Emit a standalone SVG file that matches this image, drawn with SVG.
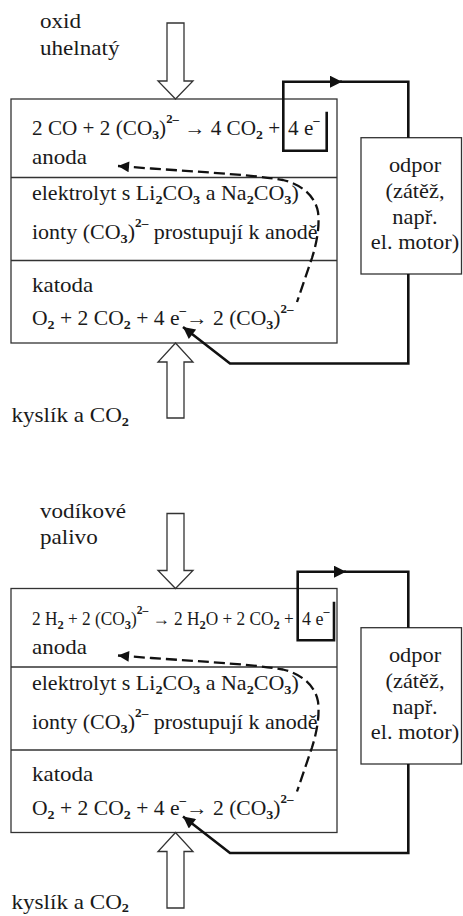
<svg xmlns="http://www.w3.org/2000/svg" width="463" height="916" viewBox="0 0 463 916">
<style>
text{font-family:"Liberation Serif","Times New Roman","DejaVu Serif",serif;fill:#1a1a1a}
.lbl{font-size:21px}
.t{font-size:20px}
.eq2{font-size:18px}
.sub{font-size:13px;font-weight:bold}
.sup{font-size:12px;font-weight:bold}
.box{fill:#fff;stroke:#333;stroke-width:1.3}
.div{stroke:#333;stroke-width:1.3;fill:none}
.hollow{fill:#fff;stroke:#333;stroke-width:1.3}
.wire{fill:none;stroke:#111;stroke-width:2.6}
.dash{fill:none;stroke:#111;stroke-width:2.3;stroke-dasharray:11 5}
</style>
<defs>
<marker id="ah" viewBox="0 0 10 10" refX="10" refY="5" markerWidth="14" markerHeight="12" markerUnits="userSpaceOnUse" orient="auto"><path d="M0,0 L10,5 L0,10 Z" fill="#111"/></marker>
<marker id="ahd" viewBox="0 0 10 10" refX="10" refY="5" markerWidth="15" markerHeight="11" markerUnits="userSpaceOnUse" orient="auto-start-reverse"><path d="M0,0 L10,5 L0,10 Z" fill="#111"/></marker>
</defs>

<!-- ===== Cell 1 ===== -->
<g id="cell1">
  <g id="c1-input-label">
    <text class="lbl" transform="matrix(1.1 0 0 1 40 27.5)">oxid</text>
    <text class="lbl" transform="matrix(1.1 0 0 1 40 55)">uhelnatý</text>
  </g>
  <g id="c1-output-label">
    <text class="lbl" transform="matrix(1.1 0 0 1 11.5 421.5)">kyslík a CO<tspan class="sub" dy="4">2</tspan></text>
  </g>
  <g id="c1-cell">
    <rect class="box" x="11" y="99" width="326" height="244"/>
    <line class="div" x1="11" y1="177.5" x2="337" y2="177.5"/>
    <line class="div" x1="11" y1="260.5" x2="337" y2="260.5"/>
  </g>
  <g id="c1-anode">
    <text class="t" transform="matrix(1.06 0 0 1 32 135)">2 CO + 2 (CO<tspan class="sub" dy="4">3</tspan><tspan dy="-4">)</tspan><tspan class="sup" dy="-12">2–</tspan><tspan dy="12"> → 4 CO</tspan><tspan class="sub" dy="4">2</tspan><tspan dy="-4"> +</tspan></text>
    <text class="t" transform="matrix(1.06 0 0 1 288 135)">4 e<tspan class="sup" dy="-11">–</tspan></text>
    <text class="t" transform="matrix(1.15 0 0 1 32 164)">anoda</text>
  </g>
  <g id="c1-electrolyte">
    <text class="t" transform="matrix(1.1 0 0 1 32 200)">elektrolyt s Li<tspan class="sub" dy="4">2</tspan><tspan dy="-4">CO</tspan><tspan class="sub" dy="4">3</tspan><tspan dy="-4"> a Na</tspan><tspan class="sub" dy="4">2</tspan><tspan dy="-4">CO</tspan><tspan class="sub" dy="4">3</tspan><tspan dy="-4">)</tspan></text>
    <text class="t" transform="matrix(1.1 0 0 1 32 238.5)">ionty (CO<tspan class="sub" dy="4">3</tspan><tspan dy="-4">)</tspan><tspan class="sup" dy="-12">2–</tspan><tspan dy="12"> prostupují k anodě</tspan></text>
  </g>
  <g id="c1-cathode">
    <text class="t" transform="matrix(1.15 0 0 1 32 291.5)">katoda</text>
    <text class="t" transform="matrix(1.08 0 0 1 32 325)">O<tspan class="sub" dy="4">2</tspan><tspan dy="-4"> + 2 CO</tspan><tspan class="sub" dy="4">2</tspan><tspan dy="-4"> + 4 e</tspan><tspan class="sup" dy="-11">–</tspan><tspan dy="11">→ 2 (CO</tspan><tspan class="sub" dy="4">3</tspan><tspan dy="-4">)</tspan><tspan class="sup" dy="-12">2–</tspan></text>
  </g>
  <g id="c1-load">
    <rect class="box" x="361" y="137.7" width="100.5" height="136.3"/>
    <text class="t" text-anchor="middle" transform="matrix(1.12 0 0 1 415 172)">odpor</text>
    <text class="t" text-anchor="middle" transform="matrix(1.12 0 0 1 415 198)">(zátěž,</text>
    <text class="t" text-anchor="middle" transform="matrix(1.12 0 0 1 415 224)">např.</text>
    <text class="t" text-anchor="middle" transform="matrix(1.12 0 0 1 415 249)">el. motor)</text>
  </g>
  <g id="c1-connectors">
    <path class="hollow" d="M167,23 H184 V81 H193 L175.5,99 L158,81 H167 Z"/>
    <path class="hollow" d="M175.5,343 L193,362 H184 V418 H167 V362 H158 Z"/>
    <path class="wire" d="M326.7,111.7 V150.7 H283.3 V81.7 H342" marker-end="url(#ah)"/>
    <path class="wire" d="M340,81.7 H408.3 V137.7"/>
    <path class="wire" d="M408.3,274 V363.5 H230 L183,327" marker-end="url(#ah)"/>
    <path class="dash" d="M118,166 C180,171 250,174 283,180 C300,184 315,195 318,212 C320,228 316,245 312,258 L297,302" marker-start="url(#ahd)"/>
  </g>
</g>

<!-- ===== Cell 2 ===== -->
<g id="cell2" transform="translate(0,489.5)">
  <g id="c2-input-label">
    <text class="lbl" transform="matrix(1.1 0 0 1 40 28.5)">vodíkové</text>
    <text class="lbl" transform="matrix(1.1 0 0 1 40 54)">palivo</text>
  </g>
  <g id="c2-output-label">
    <text class="lbl" transform="matrix(1.1 0 0 1 11.5 419)">kyslík a CO<tspan class="sub" dy="3">2</tspan></text>
  </g>
  <g id="c2-cell">
    <rect class="box" x="11" y="99" width="326" height="244"/>
    <line class="div" x1="11" y1="177.5" x2="337" y2="177.5"/>
    <line class="div" x1="11" y1="260.5" x2="337" y2="260.5"/>
  </g>
  <g id="c2-anode">
    <text class="eq2" transform="matrix(0.96 0 0 1 32 135.5)">2 H<tspan class="sub" dy="4">2</tspan><tspan dy="-4"> + 2 (CO</tspan><tspan class="sub" dy="4">3</tspan><tspan dy="-4">)</tspan><tspan class="sup" dy="-11">2–</tspan><tspan dy="11"> → 2 H</tspan><tspan class="sub" dy="4">2</tspan><tspan dy="-4">O + 2 CO</tspan><tspan class="sub" dy="4">2</tspan><tspan dy="-4"> +</tspan></text>
    <text class="eq2" transform="matrix(1 0 0 1 302 135.5)">4 e<tspan class="sup" dy="-10">–</tspan></text>
    <text class="t" transform="matrix(1.15 0 0 1 32 164)">anoda</text>
  </g>
  <g id="c2-electrolyte">
    <text class="t" transform="matrix(1.1 0 0 1 32 200.5)">elektrolyt s Li<tspan class="sub" dy="4">2</tspan><tspan dy="-4">CO</tspan><tspan class="sub" dy="4">3</tspan><tspan dy="-4"> a Na</tspan><tspan class="sub" dy="4">2</tspan><tspan dy="-4">CO</tspan><tspan class="sub" dy="4">3</tspan><tspan dy="-4">)</tspan></text>
    <text class="t" transform="matrix(1.1 0 0 1 32 239)">ionty (CO<tspan class="sub" dy="4">3</tspan><tspan dy="-4">)</tspan><tspan class="sup" dy="-12">2–</tspan><tspan dy="12"> prostupují k anodě</tspan></text>
  </g>
  <g id="c2-cathode">
    <text class="t" transform="matrix(1.15 0 0 1 32 291.5)">katoda</text>
    <text class="t" transform="matrix(1.08 0 0 1 32 325)">O<tspan class="sub" dy="4">2</tspan><tspan dy="-4"> + 2 CO</tspan><tspan class="sub" dy="4">2</tspan><tspan dy="-4"> + 4 e</tspan><tspan class="sup" dy="-11">–</tspan><tspan dy="11">→ 2 (CO</tspan><tspan class="sub" dy="4">3</tspan><tspan dy="-4">)</tspan><tspan class="sup" dy="-12">2–</tspan></text>
  </g>
  <g id="c2-load">
    <rect class="box" x="361" y="138.2" width="100.5" height="136.3"/>
    <text class="t" text-anchor="middle" transform="matrix(1.12 0 0 1 415 172)">odpor</text>
    <text class="t" text-anchor="middle" transform="matrix(1.12 0 0 1 415 198)">(zátěž,</text>
    <text class="t" text-anchor="middle" transform="matrix(1.12 0 0 1 415 224)">např.</text>
    <text class="t" text-anchor="middle" transform="matrix(1.12 0 0 1 415 249)">el. motor)</text>
  </g>
  <g id="c2-connectors">
    <path class="hollow" d="M167,24 H184 V81 H193 L175.5,99 L158,81 H167 Z"/>
    <path class="hollow" d="M175.5,343 L193,362 H184 V418.5 H167 V362 H158 Z"/>
    <path class="wire" d="M334,112.2 V150.7 H297.7 V82.2 H346" marker-end="url(#ah)"/>
    <path class="wire" d="M344,82.2 H408.3 V138.2"/>
    <path class="wire" d="M408.3,274.5 V363.5 H230 L183,327" marker-end="url(#ah)"/>
    <path class="dash" d="M118,166 C180,171 250,174 283,180 C300,184 315,195 318,212 C320,228 316,245 312,258 L297,302" marker-start="url(#ahd)"/>
  </g>
</g>
</svg>
